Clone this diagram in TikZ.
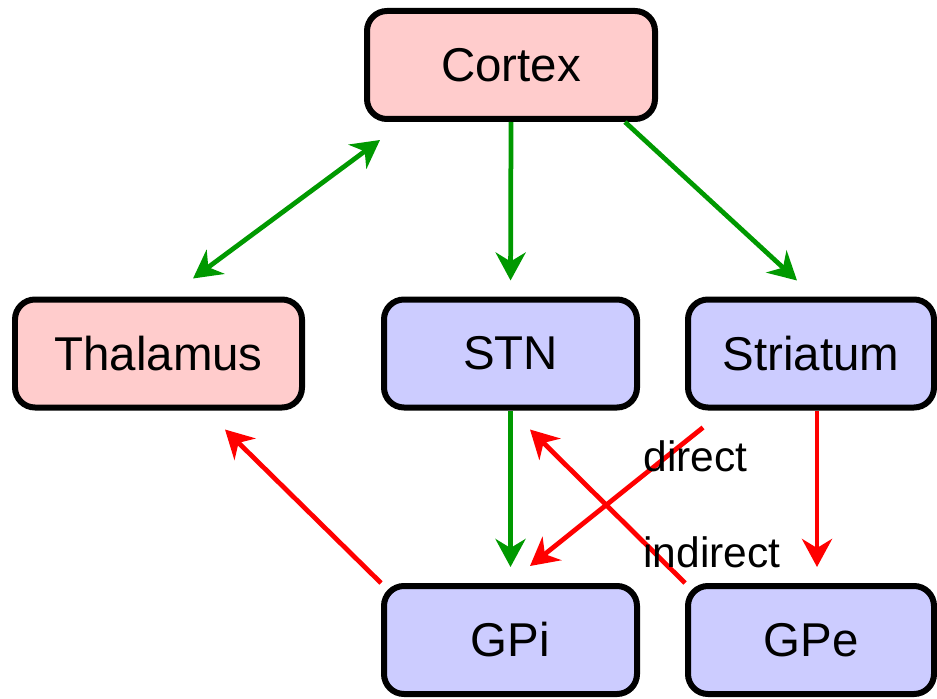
\documentclass[tikz,border=0pt]{standalone}
\usepackage{fontspec}
\setmainfont{Liberation Sans}
\usetikzlibrary{arrows.meta, calc}
\definecolor{pathgreen}{RGB}{0,153,0}

\begin{document}
\begin{tikzpicture}[
  every node/.style={font=\fontsize{27}{32}\selectfont},
  >={Stealth[length=0.56cm, width=0.6cm, inset=0.18cm]},
  region/.style={rectangle, rounded corners=0.4cm, draw, line width=0.12cm,
                 minimum height=2.16cm, align=center},
  cortical/.style={region, fill=red!20},
  basal/.style={region, fill=blue!20},
  excite/.style={->, line width=0.095cm, pathgreen},
  inhibit/.style={->, line width=0.095cm, red},
  lbl/.style={font=\fontsize{24.2}{29}\selectfont, inner sep=0pt, anchor=west},
]
\useasboundingbox (0,0) rectangle (18.74,13.96);

\node[cortical, minimum width=5.76cm] (cortex)   at (10.22,12.66) {Cortex};
\node[cortical, minimum width=5.74cm] (thalamus) at (3.17,6.89)   {Thalamus};
\node[basal, minimum width=5.06cm]    (stn)      at (10.21,6.89)  {STN};
\node[basal, minimum width=4.92cm]    (striatum) at (16.22,6.89)  {Striatum};
\node[basal, minimum width=5.06cm]    (gpi)      at (10.21,1.16)  {GPi};
\node[basal, minimum width=4.92cm]    (gpe)      at (16.22,1.16)  {GPe};

% excitatory
\draw[excite, <->] ($(cortex.south west)+(0.32,-0.36)$) -- ($(thalamus.north)+(0.69,0.36)$);
\draw[excite, shorten >=0.32cm] (cortex.south) -- (stn.north);
\draw[excite] ($(cortex.south)+(2.28,0)$) -- ($(striatum.north)+(-0.28,0.32)$);
\draw[excite, shorten >=0.32cm] (stn.south) -- (gpi.north);

% inhibitory
\draw[inhibit] ($(striatum.south west)+(0.36,-0.34)$) -- ($(gpi.north)+(0.39,0.34)$);
\draw[inhibit] (gpe.north west) -- ($(stn.south)+(0.39,-0.38)$);
\draw[inhibit, shorten >=0.32cm] ([xshift=0.12cm]striatum.south) -- ([xshift=0.12cm]gpe.north);
\draw[inhibit] (gpi.north west) -- ($(thalamus.south)+(1.33,-0.38)$);

\node[lbl] (direct)   at (12.86,4.84) {direct};
\node[lbl] (indirect) at (12.86,2.92) {indirect};
\end{tikzpicture}
\end{document}
